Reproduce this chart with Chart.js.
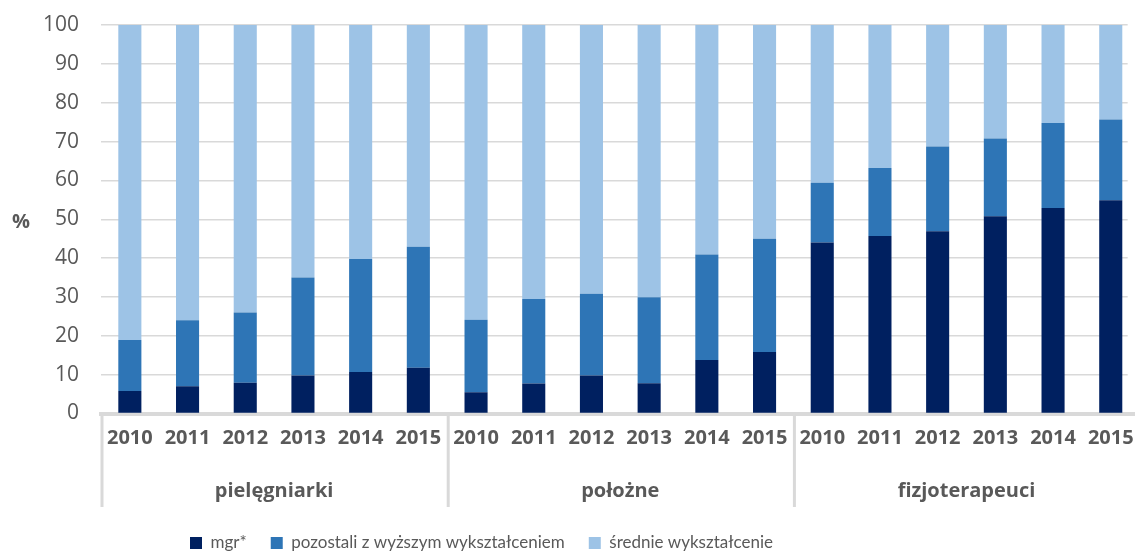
<!DOCTYPE html>
<html>
<head>
<meta charset="utf-8">
<script src="https://cdn.jsdelivr.net/npm/chart.js@4"></script>
<style>
  html, body { margin: 0; padding: 0; background: #fff; }
  #wrap { width: 1135px; height: 554px; }
</style>
</head>
<body>
<div id="wrap"><canvas id="eduChart"></canvas></div>
<script>
var groups = ['pielęgniarki', 'położne', 'fizjoterapeuci'];
var years = ['2010', '2011', '2012', '2013', '2014', '2015'];
var seriesNames = ['mgr*', 'pozostali z wyższym wykształceniem', 'średnie wykształcenie'];

// values per bar: pielęgniarki 2010-2015, położne 2010-2015, fizjoterapeuci 2010-2015
var mgr = [5.8, 7, 7.9, 9.8, 10.7, 11.8, 5.5, 7.7, 9.8, 7.8, 13.8, 15.8, 44, 45.7, 46.9, 50.8, 52.9, 54.9];
var pozostali = [13.1, 17, 18.1, 25.2, 29.1, 31.1, 18.6, 21.8, 21, 22.1, 27.1, 29.2, 15.4, 17.5, 21.8, 20, 21.9, 20.8];
var srednie = [81.1, 76, 74, 65, 60.2, 57.1, 75.9, 70.5, 69.2, 70.1, 59.1, 55, 40.6, 36.8, 31.3, 29.2, 25.2, 24.3];
var yTicks = [0, 10, 20, 30, 40, 50, 60, 70, 80, 90, 100];

var labels = [];
groups.forEach(function (g) {
  years.forEach(function (y) { labels.push(y); });
});

var grey = '#595959';
var lineGrey = '#d9d9d9';
var font = "'Open Sans', sans-serif";
var legendFont = "Lato, 'Open Sans', sans-serif";

var groupAxis = {
  id: 'groupAxis',
  afterLayout: function (chart) {
    // pin the plot top to the original position
    var y = chart.scales.y;
    chart.chartArea.top = 25;
    chart.chartArea.height = chart.chartArea.bottom - 25;
    y.top = 25;
    y.height = y.bottom - y.top;
    y.configure();

    // the category axis runs a few px past the right edge in the original
    var x = chart.scales.x;
    x.right = x.left + 18 * 57.7;
    x.width = x.right - x.left;
    x.configure();

    var lg = chart.legend;
    var pad = lg.options.labels.padding;
    var fs = lg.options.labels.font.size;
    var dy = 543 - (lg.top + pad + fs / 2);
    lg.top += dy;
    lg.bottom += dy;
    var firstBox = (lg.left + pad + lg.right - lg.lineWidths[0]) / 2;
    var dx = 190 - firstBox;
    lg.left += dx;
    lg.right += dx;
  },
  afterDraw: function (chart) {
    var ctx = chart.ctx;
    var x = chart.scales.x;
    var catW = x.width / 18;
    ctx.save();
    ctx.strokeStyle = lineGrey;
    ctx.lineWidth = 3;
    for (var i = 0; i <= groups.length; i++) {
      var px = x.left + i * 6 * catW + 1;
      ctx.beginPath();
      ctx.moveTo(px, x.top);
      ctx.lineTo(px, 507);
      ctx.stroke();
    }
    ctx.fillStyle = grey;
    ctx.textAlign = 'center';
    ctx.textBaseline = 'middle';
    ctx.font = 'bold 20px ' + font;
    groups.forEach(function (g, k) {
      ctx.fillText(g, x.left + (k * 6 + 3) * catW, 491);
    });
    ctx.fillText('%', 21, 222);
    ctx.restore();
  }
};

var myChart = new Chart(document.getElementById('eduChart'), {
  type: 'bar',
  data: {
    labels: labels,
    datasets: [{
      label: seriesNames[0],
      data: mgr,
      backgroundColor: '#002060'
    }, {
      label: seriesNames[1],
      data: pozostali,
      backgroundColor: '#2E75B6'
    }, {
      label: seriesNames[2],
      data: srednie,
      backgroundColor: '#9DC3E6'
    }]
  },
  options: {
    responsive: true,
    maintainAspectRatio: false,
    animation: false,
    layout: { padding: { top: 16, left: 0, right: 0, bottom: 0 } },
    datasets: {
      bar: { barPercentage: 0.4, categoryPercentage: 1 }
    },
    scales: {
      x: {
        stacked: true,
        grid: { display: false, drawTicks: false },
        border: { color: lineGrey, width: 4 },
        ticks: {
          color: grey,
          padding: 13,
          maxRotation: 0,
          autoSkip: false,
          font: { family: font, size: 20, weight: 'bold' }
        },
        afterFit: function (scale) {
          var lg = scale.chart.legend;
          scale.height = scale.chart.height - 413.5 - (lg ? lg.height : 0);
        }
      },
      y: {
        stacked: true,
        min: 0,
        max: 100,
        afterBuildTicks: function (scale) {
          scale.ticks = yTicks.map(function (v) { return { value: v }; });
        },
        grid: { color: lineGrey, lineWidth: 1.5, drawTicks: false },
        border: { display: false },
        ticks: {
          color: grey,
          padding: 22,
          font: { family: font, size: 21 }
        },
        afterFit: function (scale) { scale.width = 101; }
      }
    },
    plugins: {
      legend: {
        position: 'bottom',
        labels: {
          boxWidth: 12,
          boxHeight: 12,
          padding: 24,
          color: grey,
          font: { family: legendFont, size: 17 }
        }
      },
      tooltip: { enabled: false }
    }
  },
  plugins: [groupAxis]
});
</script>
</body>
</html>
